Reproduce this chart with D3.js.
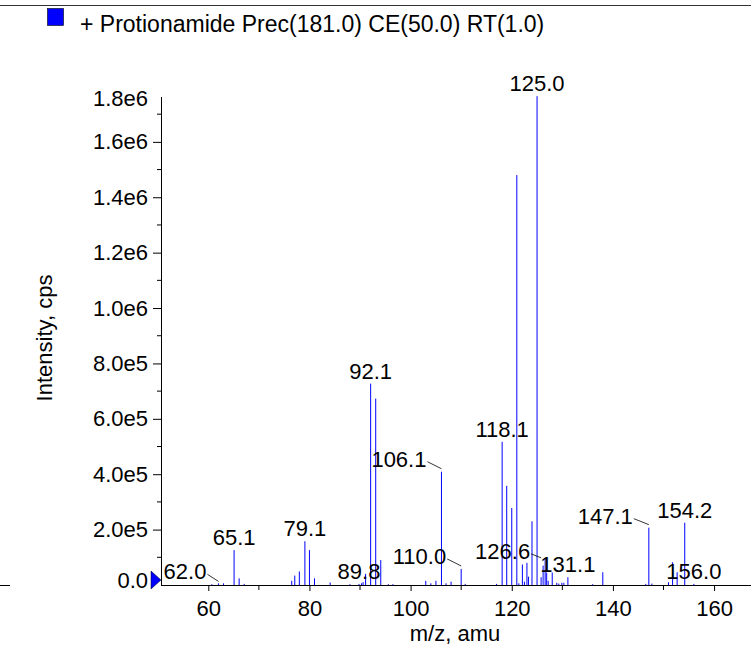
<!DOCTYPE html>
<html>
<head>
<meta charset="utf-8">
<script src="https://cdn.jsdelivr.net/npm/d3@7/dist/d3.min.js"></script>
<style>
  html, body { margin: 0; padding: 0; background: #fff; }
  svg { display: block; font-family: "Liberation Sans", Arial, Helvetica, sans-serif; }
</style>
</head>
<body>
<svg id="chart" width="751" height="647"></svg>
<script>
// ---- data ----
const legendText = "+ Protionamide Prec(181.0) CE(50.0) RT(1.0)";
const xTitle = "m/z, amu";
const yTitle = "Intensity, cps";
const mz = [60.7, 62.0, 63.0, 65.1, 66.1, 67.1, 76.5, 77.1, 78.0, 79.1, 80.0, 81.0, 84.1,
  88.0, 89.8, 90.3, 90.6, 91.1, 92.1, 93.1, 94.1, 95.6, 96.5,
  103.0, 104.0, 105.0, 106.1, 107.0, 108.0, 110.0, 110.8,
  117.0, 118.1, 119.0, 120.0, 121.0, 121.4, 122.1, 122.5, 123.0, 123.3, 124.0, 125.0,
  125.8, 126.2, 126.6, 126.9, 127.2, 128.0, 128.9, 129.3, 129.9, 130.3, 131.1,
  136.0, 138.0, 146.5, 147.1, 147.7, 151.0, 151.8, 152.7, 154.2, 156.0];
const intensity = [3000, 6000, 6000, 126000, 24000, 4000, 15000, 34000, 49000, 158000, 126000, 24000, 9000,
  3000, 4000, 6000, 10000, 40000, 727000, 673000, 90000, 3000, 3000,
  15000, 6000, 15000, 409000, 6000, 12000, 58000, 4000,
  4000, 517000, 358000, 278000, 1480000, 6000, 74000, 12000, 80000, 30000, 230000, 1765000,
  28000, 70000, 98000, 45000, 15000, 45000, 8000, 5000, 8000, 8000, 28000,
  3000, 46000, 4000, 207000, 5000, 10000, 82000, 46000, 225000, 4000];
const peakLabels = ["62.0", "65.1", "79.1", "89.8", "92.1", "106.1", "110.0", "118.1",
  "125.0", "126.6", "131.1", "147.1", "154.2", "156.0"];
const xTickValues = [60, 80, 100, 120, 140, 160];
const xMinorValues = [70, 90, 110, 130, 150];
const yTickValues = [0, 200000, 400000, 600000, 800000, 1000000, 1200000, 1400000, 1600000];
const yTickLabels = ["0.0", "2.0e5", "4.0e5", "6.0e5", "8.0e5", "1.0e6", "1.2e6", "1.4e6", "1.6e6"];
const yMinorValues = [100000, 300000, 500000, 700000, 900000, 1100000, 1300000, 1500000, 1700000];
const yTopLabel = "1.8e6";
const xDomain = [50.65, 167.3];
const yDomain = [0, 1762000];

// ---- layout ----
const svg = d3.select("#chart");
const plotLeft = 161, plotRight = 751, plotTop = 97, plotBottom = 585;
const x = d3.scaleLinear().domain(xDomain).range([plotLeft, plotRight]);
const y = d3.scaleLinear().domain(yDomain).range([plotBottom, plotTop]);
const BLUE = "#0000ff";
const peaks = mz.map((m, i) => ({ mz: m, v: intensity[i] }));

// top border line
svg.append("line").attr("x1", 0).attr("x2", 751).attr("y1", 5.5).attr("y2", 5.5)
  .attr("stroke", "#333").attr("stroke-width", 1);
// left stub at baseline
svg.append("line").attr("x1", 0).attr("x2", 10).attr("y1", plotBottom + 0.5).attr("y2", plotBottom + 0.5)
  .attr("stroke", "#000");

// legend
svg.append("rect").attr("x", 47.5).attr("y", 8.5).attr("width", 16).attr("height", 17)
  .attr("fill", BLUE).attr("stroke", "#000").attr("stroke-width", 0.6);
svg.append("text").attr("x", 80).attr("y", 32).attr("font-size", 23).attr("fill", "#000")
  .text(legendText);

// peaks
svg.append("g").selectAll("line").data(peaks).join("line")
  .attr("x1", d => x(d.mz)).attr("x2", d => x(d.mz))
  .attr("y1", y(0)).attr("y2", d => y(d.v))
  .attr("stroke", BLUE).attr("stroke-width", 1);

// x axis
const xAxis = d3.axisBottom(x).tickValues(xTickValues).tickSize(6).tickPadding(9)
  .tickFormat(d3.format("d"));
const gx = svg.append("g").attr("transform", `translate(0,${plotBottom})`).call(xAxis);
gx.select(".domain").remove();
gx.append("line").attr("x1", plotLeft).attr("x2", plotRight).attr("y1", 0.5).attr("y2", 0.5).attr("stroke", "#000");
gx.selectAll(".tick text").attr("font-size", 22).attr("font-family", null).attr("fill", "#000");
gx.selectAll(".minor").data(xMinorValues).join("line").attr("class", "minor")
  .attr("x1", d => x(d)).attr("x2", d => x(d)).attr("y1", 0).attr("y2", 5).attr("stroke", "#000");

// y axis
const yAxis = d3.axisLeft(y).tickValues(yTickValues.slice(1)).tickSize(8).tickPadding(5)
  .tickFormat((d) => yTickLabels[yTickValues.indexOf(d)]);
const gy = svg.append("g").attr("transform", `translate(${plotLeft},0)`).call(yAxis);
gy.select(".domain").remove();
gy.append("line").attr("x1", 0.5).attr("x2", 0.5).attr("y1", plotTop).attr("y2", plotBottom).attr("stroke", "#000");
gy.selectAll(".tick text").attr("font-size", 22).attr("font-family", null).attr("fill", "#000");
gy.selectAll(".minor").data(yMinorValues).join("line").attr("class", "minor")
  .attr("x1", -4).attr("x2", 0).attr("y1", d => y(d)).attr("y2", d => y(d)).attr("stroke", "#000");
// zero label (raised) and top label
gy.append("text").attr("x", -13).attr("y", y(0) - 5).attr("dy", "0.35em").attr("text-anchor", "end")
  .attr("font-size", 22).attr("fill", "#000").text(yTickLabels[0]);
gy.append("text").attr("x", -13).attr("y", plotTop + 1).attr("dy", "0.35em").attr("text-anchor", "end")
  .attr("font-size", 22).attr("fill", "#000").text(yTopLabel);
// zero marker triangle
svg.append("path")
  .attr("d", `M${plotLeft - 10},${y(0) - 14} L${plotLeft},${y(0) - 5} L${plotLeft - 10},${y(0) + 4} Z`)
  .attr("fill", BLUE).attr("stroke", "#000").attr("stroke-width", 0.5);

// axis titles
svg.append("text").attr("x", (plotLeft + plotRight) / 2 - 1).attr("y", 641).attr("text-anchor", "middle")
  .attr("font-size", 22).attr("fill", "#000").text(xTitle);
svg.append("text").attr("transform", "translate(52,338) rotate(-90)").attr("text-anchor", "middle")
  .attr("font-size", 22).attr("fill", "#000").text(yTitle);

// peak labels
const shifted = {
  "62.0": { dx: -12, dy: -4, lx: 0, ly: -2 },
  "106.1": { dx: -15, dy: -5, lx: 0, ly: -3 },
  "110.0": { dx: -15, dy: -5, lx: 0, ly: -3 },
  "126.6": { dx: -15, dy: 1, lx: -4, ly: 0 },
  "147.1": { dx: -16, dy: -4, lx: 0, ly: -3 }
};
const gl = svg.append("g");
peakLabels.forEach(lbl => {
  const target = +lbl;
  const p = peaks.reduce((a, b) => Math.abs(b.mz - target) < Math.abs(a.mz - target) ? b : a);
  const px = x(p.mz), py = y(p.v);
  const s = shifted[lbl];
  if (s) {
    gl.append("text").attr("x", px + s.dx).attr("y", py + s.dy).attr("text-anchor", "end")
      .attr("font-size", 22).attr("fill", "#000").text(lbl);
    gl.append("line").attr("x1", px + s.dx + 1).attr("y1", py + s.dy - 5)
      .attr("x2", px + s.lx).attr("y2", py + s.ly).attr("stroke", "#000").attr("stroke-width", 0.8);
  } else {
    gl.append("text").attr("x", px).attr("y", py - 5).attr("text-anchor", "middle")
      .attr("font-size", 22).attr("fill", "#000").text(lbl);
  }
});
</script>
</body>
</html>
